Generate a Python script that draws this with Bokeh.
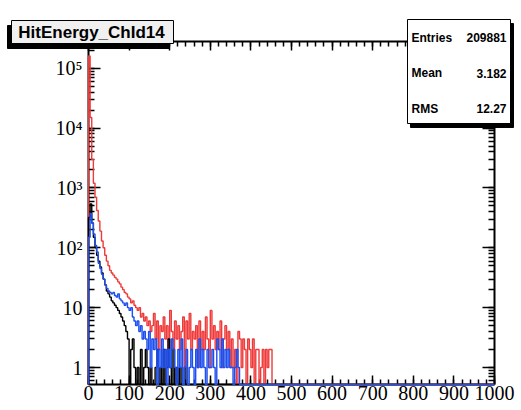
import numpy as np
from bokeh.plotting import figure
from bokeh.models import (SingleIntervalTicker, LogTicker, LogAxis, LinearAxis,
                          BoxAnnotation, Label, CustomJSTickFormatter, Range1d)
from bokeh.embed import file_html
from bokeh.resources import INLINE

# histogram binning and axis limits
X_MIN, X_MAX = 0, 1000
BIN_WIDTH = 4
Y_MIN, Y_MAX = 0.52, 2.8e5

# bin contents, starting at bin 0 (bins beyond the list are empty)
red_counts = [
    160000, 15000, 3000, 1200, 700, 420, 280, 190, 130, 100,
    75, 60, 50, 42, 38, 35, 32, 30, 27, 25,
    22, 20, 18, 17, 15, 14, 12, 13, 11, 10,
    9, 10, 7, 8, 6, 7, 5, 6, 4, 5,
    8, 3, 6, 2, 5, 4, 7, 3, 5, 2,
    9, 4, 2, 6, 3, 5, 2, 4, 7, 1,
    6, 3, 8, 2, 4, 3, 5, 1, 6, 2,
    4, 2, 7, 3, 1, 9, 3, 5, 2, 4,
    2, 6, 1, 3, 5, 2, 4, 1, 3, 1,
    2, 0, 4, 3, 1, 3, 2, 0, 3, 2,
    1, 3, 0, 2, 2, 0, 1, 2, 0, 2,
    1, 2, 2,
]
black_counts = [
    320, 540, 260, 150, 100, 75, 60, 48, 38, 30,
    24, 19, 17, 15, 13, 12, 11, 10, 9, 8,
    7, 6, 5, 4, 3, 0, 2, 3, 1, 0,
    1, 0, 2, 0, 1, 2, 1, 0, 1, 0,
    0, 1, 2, 0, 1, 0, 2, 0, 1, 3,
    1, 0, 2, 0, 1, 0, 1, 0, 0, 1,
]
blue_counts = [
    150, 370, 260, 170, 110, 85, 55, 45, 36, 30,
    24, 21, 19, 18, 17, 18, 16, 15, 17, 14,
    13, 12, 11, 12, 10, 9, 10, 7, 6, 5,
    6, 4, 5, 3, 4, 3, 2, 4, 1, 3,
    2, 3, 0, 2, 1, 3, 1, 2, 0, 2,
    1, 3, 2, 1, 0, 2, 1, 3, 0, 1,
    2, 0, 1, 2, 1, 0, 2, 1, 3, 1,
    2, 1, 0, 2, 1, 1, 2, 1, 0, 3,
    2, 1, 3, 1, 2, 1, 2, 1, 1, 0,
    1, 2, 1,
]

title_text = "HitEnergy_ChId14"
stat_names = ["Entries", "Mean", "RMS"]
stat_values = ["209881", "3.182", "12.27"]
y_tick_values = [1, 10, 100, 1000, 10000, 100000]
y_tick_labels = ["1", "10", "10\u00b2", "10\u00b3", "10\u2074", "10\u2075"]

# page size and where the histogram frame sits on it (pixels from top-left)
W, H = 521, 410
PX_L, PX_R, PX_T, PX_B = 88, 494, 41, 384

# canvas-wide ranges that put the histogram frame at those pixels,
# so the stat and title boxes can sit anywhere on the page
kx = (PX_R - PX_L) / (X_MAX - X_MIN)
x_range = Range1d(X_MIN - PX_L / kx, X_MAX + (W - PX_R) / kx)
dec_per_px = np.log10(Y_MAX / Y_MIN) / (PX_B - PX_T)
y_range = Range1d(Y_MIN * 10 ** (-(H - PX_B) * dec_per_px),
                  Y_MAX * 10 ** (PX_T * dec_per_px))


def outline(counts):
    """Vertices of a histogram outline; empty bins drop to the bottom."""
    n_bins = int((X_MAX - X_MIN) / BIN_WIDTH)
    full = np.zeros(n_bins)
    full[:len(counts)] = counts
    edges = X_MIN + BIN_WIDTH * np.arange(n_bins + 1)
    ys = np.where(full > 0, full, Y_MIN)
    xs = np.concatenate([[edges[0]], np.repeat(edges, 2)[1:-1], [edges[-1]]])
    yv = np.concatenate([[Y_MIN], np.repeat(ys, 2), [Y_MIN]])
    return xs, yv


p = figure(width=W, height=H, y_axis_type="log",
           x_range=x_range, y_range=y_range,
           output_backend="svg", toolbar_location=None, min_border=0,
           background_fill_color="white", border_fill_color="white")
p.xgrid.visible = False
p.ygrid.visible = False
p.outline_line_color = None

for counts, color in [(red_counts, "#ee3a3a"), (black_counts, "black"),
                      (blue_counts, "#1d4ff0")]:
    xs, ys = outline(counts)
    p.line(xs, ys, line_color=color, line_width=1.4, level="annotation")


# frame axes with inward ticks on all four sides
def style_axis(ax, major, minor):
    ax.axis_line_width = 2
    ax.axis_line_color = "black"
    ax.major_tick_in = major
    ax.major_tick_out = 0
    ax.minor_tick_in = minor
    ax.minor_tick_out = 0
    ax.major_tick_line_width = 1.5
    ax.minor_tick_line_width = 1.5
    ax.major_label_text_color = "black"


xa = p.xaxis[0]
xa.ticker = SingleIntervalTicker(interval=100, num_minor_ticks=5)
xa.fixed_location = Y_MIN
xa.bounds = (X_MIN, X_MAX)
style_axis(xa, 9, 5)
xa.major_label_text_font = "Liberation Serif"
xa.major_label_text_font_size = "20px"
xa.major_label_standoff = 1

ya = p.yaxis[0]
ya.ticker = LogTicker(num_minor_ticks=10)
ya.fixed_location = X_MIN
ya.bounds = (Y_MIN, Y_MAX)
style_axis(ya, 12, 6)
ya.major_label_text_font = "Liberation Serif"
ya.major_label_text_font_size = "20px"
ya.major_label_standoff = 6
ya.major_label_overrides = dict(zip(y_tick_values, y_tick_labels))

blank = CustomJSTickFormatter(code="return ''")
top_axis = LinearAxis(ticker=SingleIntervalTicker(interval=100, num_minor_ticks=5),
                      formatter=blank, major_label_standoff=0,
                      fixed_location=Y_MAX, bounds=(X_MIN, X_MAX))
style_axis(top_axis, 9, 5)
p.add_layout(top_axis, "above")

right_axis = LogAxis(ticker=LogTicker(num_minor_ticks=10),
                     formatter=blank, major_label_standoff=0,
                     fixed_location=X_MAX, bounds=(Y_MIN, Y_MAX))
style_axis(right_axis, 12, 6)
p.add_layout(right_axis, "right")


def box(left, top, right, bottom, fill):
    p.add_layout(BoxAnnotation(left=left, right=right,
                               top=H - top, bottom=H - bottom,
                               left_units="screen", right_units="screen",
                               top_units="screen", bottom_units="screen",
                               fill_color=fill, fill_alpha=1.0,
                               line_color="black", line_width=1, line_alpha=1.0,
                               level="overlay"))


def label(x, y, text, align, size):
    p.add_layout(Label(x=x, y=H - y, x_units="screen", y_units="screen",
                       text=text, text_align=align, text_baseline="middle",
                       text_font="Liberation Sans", text_font_style="bold",
                       text_color="black", text_font_size=size, level="overlay"))


# title box with its shadow
box(7, 25, 169, 48, "black")
box(11, 20, 173, 43, "#f0f0f0")
label(91, 32, title_text, "center", "17px")

# statistics box with its shadow
box(410, 23, 513, 127, "black")
box(407, 19, 510, 123, "white")
for i, (name, val) in enumerate(zip(stat_names, stat_values)):
    yy = 37 + 35.5 * i
    label(411, yy, name, "left", "12px")
    label(506, yy, val, "right", "12px")

open("out.html", "w").write(file_html(p, INLINE))
